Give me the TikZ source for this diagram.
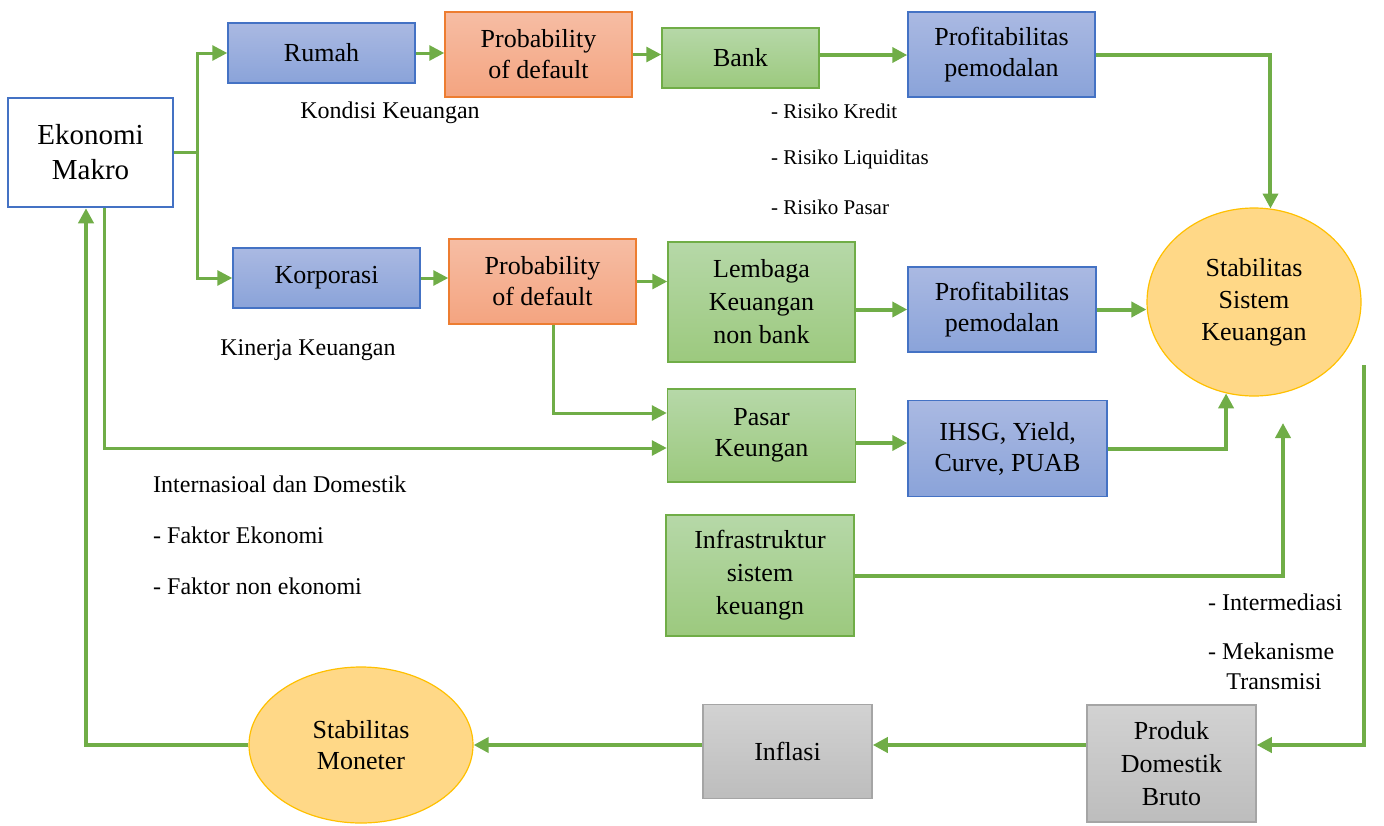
\documentclass[tikz,border=0pt]{standalone}
\usepackage{fontspec}
\setmainfont{Liberation Serif}
\usepackage{tikz}
\usetikzlibrary{positioning,arrows.meta,shapes.geometric}
\definecolor{bluebd}{HTML}{4472C4}
\definecolor{bluetop}{HTML}{AAB9E2}
\definecolor{bluebot}{HTML}{8AA3D9}
\definecolor{orgbd}{HTML}{ED7D31}
\definecolor{orgtop}{HTML}{F6BDA4}
\definecolor{orgbot}{HTML}{F4A480}
\definecolor{grnbd}{HTML}{70AD47}
\definecolor{grntop}{HTML}{B6D8A8}
\definecolor{grnbot}{HTML}{9CC97E}
\definecolor{grybd}{HTML}{A5A5A5}
\definecolor{grytop}{HTML}{D2D2D2}
\definecolor{grybot}{HTML}{BDBDBD}
\definecolor{ovalbd}{HTML}{FFC000}
\definecolor{ovalfill}{HTML}{FFD887}

\begin{document}
\begin{tikzpicture}[
  x=1pt, y=-1pt,
  font=\fontsize{26}{31}\selectfont,
  box/.style={draw, line width=1.5pt, align=center, inner sep=0pt},
  bluebox/.style={box, draw=bluebd, top color=bluetop, bottom color=bluebot},
  orgbox/.style={box, draw=orgbd, top color=orgtop, bottom color=orgbot},
  grnbox/.style={box, draw=grnbd, top color=grntop, bottom color=grnbot},
  grybox/.style={box, draw=grybd, top color=grytop, bottom color=grybot},
  oval/.style={ellipse, draw=ovalbd, line width=1.2pt, fill=ovalfill, align=center, inner sep=0pt},
  lbl/.style={font=\fontsize{24}{28}\selectfont, inner sep=0pt},
  arr/.style={draw=grnbd, line width=3pt, -{Triangle[length=15pt,width=15pt]}},
  bigarr/.style={arr, line width=4pt}
]
\useasboundingbox (0,0) rectangle (1384,825);

\node[box, draw=bluebd, line width=2.5pt, fill=white, minimum width=165pt, minimum height=109pt,
  font=\fontsize{29}{35}\selectfont] (eko) at (90.5,152.5) {Ekonomi\\Makro};

\node[bluebox, minimum width=187pt, minimum height=60pt] (rumah) at (321.5,53) {Rumah};
\node[orgbox, minimum width=187pt, minimum height=85pt] (pd1) at (538.5,54.5) {Probability\\of default};
\node[grnbox, minimum width=157pt, minimum height=60pt] (bank) at (740.5,58) {Bank};
\node[bluebox, minimum width=187pt, minimum height=85pt] (prof1) at (1001.5,54.5) {Profitabilitas\\pemodalan};

\node[bluebox, minimum width=187pt, minimum height=60pt] (korp) at (326.5,278) {Korporasi};
\node[orgbox, minimum width=187pt, minimum height=85pt] (pd2) at (542.5,281.5) {Probability\\of default};
\node[grnbox, minimum width=187pt, minimum height=120pt, font=\fontsize{26}{33}\selectfont] (lembaga) at (761.5,302) {Lembaga\\Keuangan\\non bank};
\node[bluebox, minimum width=188pt, minimum height=85pt] (prof2) at (1002,309.5) {Profitabilitas\\pemodalan};

\node[oval, minimum width=214pt, minimum height=188pt, font=\fontsize{26}{32}\selectfont] (ssk) at (1254,302) {Stabilitas\\Sistem\\Keuangan};

\node[grnbox, minimum width=188pt, minimum height=93pt] (pasar) at (761.5,435.5) {Pasar\\Keungan};
\node[bluebox, minimum width=199pt, minimum height=96pt] (ihsg) at (1007.5,448.5) {IHSG, Yield,\\Curve, PUAB};
\node[grnbox, minimum width=188pt, minimum height=121pt, font=\fontsize{26}{33}\selectfont] (infra) at (760,575.5) {Infrastruktur\\sistem\\keuangn};

\node[grybox, minimum width=169pt, minimum height=117pt, font=\fontsize{26}{33}\selectfont] (pdb) at (1171.5,763.5) {Produk\\Domestik\\Bruto};
\node[grybox, minimum width=169pt, minimum height=94pt] (inflasi) at (787.5,751.5) {Inflasi};
\node[oval, minimum width=224pt, minimum height=156pt] (smon) at (361,745) {Stabilitas\\Moneter};

\node[lbl] (kondisi) at (390,113) {Kondisi Keuangan};
\node[lbl] (kinerja) at (308,350) {Kinerja Keuangan};
\node[lbl, font=\fontsize{21}{25}\selectfont, anchor=west] (rk) at (771,111) {- Risiko Kredit};
\node[lbl, font=\fontsize{21}{25}\selectfont, anchor=west] (rl) at (771,159) {- Risiko Liquiditas};
\node[lbl, font=\fontsize{21}{25}\selectfont, anchor=west] (rp) at (771,207) {- Risiko Pasar};
\node[lbl, anchor=west] (intl) at (153,484) {Internasioal dan Domestik};
\node[lbl, anchor=west] (fe) at (153,535) {- Faktor Ekonomi};
\node[lbl, anchor=west] (fne) at (153,586) {- Faktor non ekonomi};
\node[lbl, anchor=west] (inter) at (1208,602) {- Intermediasi};
\node[lbl, anchor=west] (mek) at (1208,651) {- Mekanisme};
\node[lbl] (trans) at (1274,682) {Transmisi};

\coordinate (split) at (197,152.5);
\coordinate (infratip) at (1283,423);
\coordinate (sskout) at (1364,365);

\draw[grnbd, line width=3pt] (eko.east) -- (split);
\draw[arr] (split) |- (rumah.west);
\draw[arr] (split) |- (korp.west);
\draw[arr] (rumah.east) -- (rumah.east -| pd1.west);
\draw[arr] (pd1.east) -- (pd1.east -| bank.west);
\draw[bigarr] ([yshift=3pt]bank.east) -- ([yshift=3pt]bank.east -| prof1.west);
\draw[bigarr] (prof1.east) -| (ssk.80);
\draw[arr] (korp.east) -- (korp.east -| pd2.west);
\draw[arr] (pd2.east) -- (pd2.east -| lembaga.west);
\draw[bigarr] (prof2.west -| lembaga.east) -- (prof2.west);
\draw[bigarr] (prof2.east) -- (prof2.east -| ssk.west);
\draw[arr] ([xshift=11pt]pd2.south) |- ([yshift=22.5pt]pasar.west);
\draw[arr] ([xshift=14pt]eko.south) |- ([yshift=-12.5pt]pasar.west);
\draw[bigarr] ([yshift=-7.5pt]pasar.east) -- ([yshift=-7.5pt]pasar.east -| ihsg.west);
\draw[bigarr] (ihsg.east) -| (ssk.253);
\draw[bigarr] (infra.east) -| (infratip);
\draw[bigarr] (sskout) |- ([yshift=18.5pt]pdb.east);
\draw[bigarr] ([yshift=18.5pt]pdb.west) -- ([yshift=18.5pt]pdb.west -| inflasi.east);
\draw[bigarr] (inflasi.west |- smon.east) -- (smon.east);
\draw[bigarr] (smon.west) -| ([xshift=-4.5pt]eko.south);
\end{tikzpicture}
\end{document}
